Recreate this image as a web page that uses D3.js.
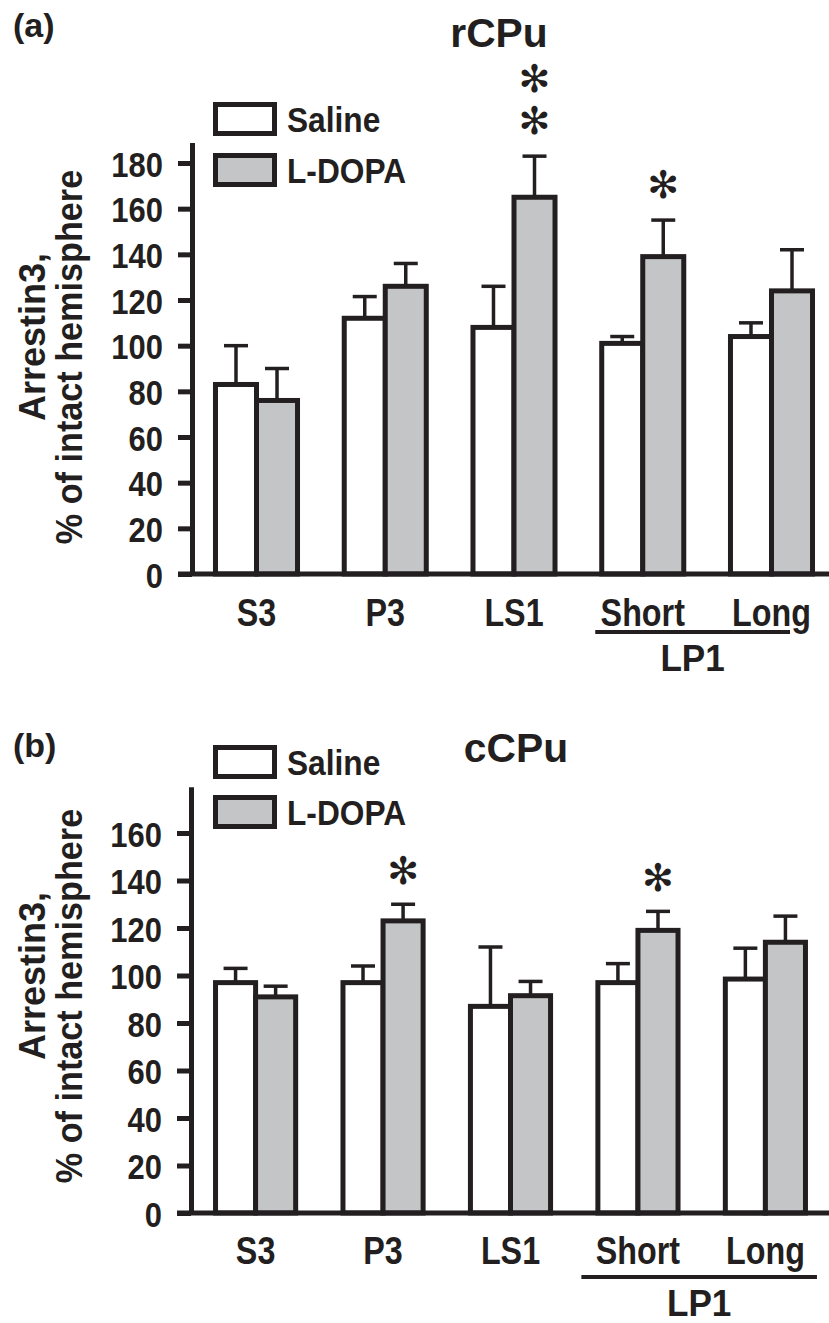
<!DOCTYPE html>
<html>
<head>
<meta charset="utf-8">
<script src="https://cdn.jsdelivr.net/npm/d3@7"></script>
<style>
  body { margin: 0; background: #fff; }
  svg { display: block; }
  text { font-family: "Liberation Sans", Arial, sans-serif; font-weight: bold; fill: #231f20; }
  .star { font-family: "DejaVu Sans", sans-serif; font-weight: normal; }
</style>
</head>
<body>
<div id="chart"></div>
<script>
// ---- data ----
const categories = ['S3', 'P3', 'LS1', 'Short', 'Long'];
const series = ['Saline', 'L-DOPA'];
const lp1Group = ['Short', 'Long'];

// (a) rCPu
const salineA = [83, 112, 108, 101, 104];
const salineErrA = [17, 9.5, 18, 3, 6];
const ldopaA = [76, 126, 165, 139, 124];
const ldopaErrA = [14, 10, 18, 16, 18];
const starsA = [0, 0, 2, 1, 0];
const ticksA = [0, 20, 40, 60, 80, 100, 120, 140, 160, 180];

// (b) cCPu
const salineB = [97, 97, 87, 97, 98.5];
const salineErrB = [6, 7, 25, 8, 13];
const ldopaB = [91, 123, 91.5, 119, 114];
const ldopaErrB = [4.5, 7, 6, 8, 11];
const starsB = [0, 1, 0, 1, 0];
const ticksB = [0, 20, 40, 60, 80, 100, 120, 140, 160];

const W = 829, H = 1323;
const INK = '#231f20', GREY = '#c4c5c7';
const fills = { 'Saline': '#ffffff', 'L-DOPA': GREY };

const svg = d3.select('#chart').append('svg').attr('width', W).attr('height', H);

function txt(g, str, x, y, size, anchor, sx, rot) {
    return g.append('text')
        .attr('transform', `translate(${x},${y})` + (rot ? ` rotate(${rot})` : '') + ` scale(${sx || 1},1)`)
        .attr('text-anchor', anchor || 'start')
        .style('font-size', size + 'px')
        .text(str);
}

function drawPanel(cfg) {
    const g = svg.append('g');
    const y = d3.scaleLinear().domain([0, cfg.yMax]).range([cfg.y0, cfg.y0 - cfg.yMax * cfg.ppu]);
    const x0 = d3.scaleBand().domain(categories).range(cfg.xRange)
        .paddingInner(cfg.padIn).paddingOuter(cfg.padOut);
    const x1 = d3.scaleBand().domain(series).range([2.5, x0.bandwidth() - 2.5]);

    const rows = categories.map((c, i) => ({
        cat: c,
        vals: [
            { s: 'Saline', v: cfg.saline[i], e: cfg.salineErr[i], stars: 0 },
            { s: 'L-DOPA', v: cfg.ldopa[i], e: cfg.ldopaErr[i], stars: cfg.stars[i] }
        ]
    }));

    // error bars (drawn first so bar outlines sit on top)
    const bars = g.selectAll('g.grp').data(rows).enter().append('g')
        .attr('class', 'grp')
        .attr('transform', d => `translate(${x0(d.cat)},0)`);

    bars.selectAll('line.stem').data(d => d.vals).enter().append('line')
        .attr('x1', d => x1(d.s) + x1.bandwidth() / 2)
        .attr('x2', d => x1(d.s) + x1.bandwidth() / 2)
        .attr('y1', d => y(d.v)).attr('y2', d => y(d.v + d.e))
        .attr('stroke', INK).attr('stroke-width', 3.5);
    bars.selectAll('line.cap').data(d => d.vals).enter().append('line')
        .attr('x1', d => x1(d.s) + x1.bandwidth() / 2 - 12)
        .attr('x2', d => x1(d.s) + x1.bandwidth() / 2 + 12)
        .attr('y1', d => y(d.v + d.e)).attr('y2', d => y(d.v + d.e))
        .attr('stroke', INK).attr('stroke-width', 3.5);

    bars.selectAll('rect').data(d => d.vals).enter().append('rect')
        .attr('x', d => x1(d.s))
        .attr('width', x1.bandwidth())
        .attr('y', d => y(d.v))
        .attr('height', d => y(0) - y(d.v))
        .attr('fill', d => fills[d.s])
        .attr('stroke', INK).attr('stroke-width', 5);

    // significance asterisks
    bars.each(function (d) {
        const v = d.vals[1];
        for (let k = 0; k < v.stars; k++) {
            d3.select(this).append('text').attr('class', 'star')
                .attr('x', x1(v.s) + x1.bandwidth() / 2)
                .attr('y', y(v.v + v.e) - cfg.starGap - k * 42)
                .attr('text-anchor', 'middle')
                .attr('dominant-baseline', 'central')
                .style('font-size', '38px')
                .text('\u273B');
        }
    });

    // y axis
    const ya = g.append('g').attr('transform', `translate(${cfg.axisX},0)`)
        .call(d3.axisLeft(y).tickValues(cfg.ticks).tickSize(14).tickSizeOuter(0).tickPadding(15));
    ya.select('.domain').attr('stroke', INK).attr('stroke-width', 5);
    ya.selectAll('.tick line').attr('stroke', INK).attr('stroke-width', 5);
    ya.selectAll('.tick text')
        .attr('x', null).attr('dy', null)
        .attr('transform', 'translate(-29,13) scale(0.86,1)')
        .style('font-size', '36px').style('font-family', null).attr('fill', INK);

    // baseline
    g.append('line')
        .attr('x1', cfg.axisX - 14).attr('x2', W)
        .attr('y1', y(0)).attr('y2', y(0))
        .attr('stroke', INK).attr('stroke-width', 5);

    // category labels
    const xa = g.append('g').attr('transform', `translate(0,${cfg.xLabelY})`)
        .call(d3.axisBottom(x0).tickSize(0).tickPadding(0));
    xa.select('.domain').remove();
    xa.selectAll('.tick text')
        .attr('y', null).attr('dy', null)
        .attr('transform', 'scale(0.85,1)')
        .style('font-size', '38px').style('font-family', null).attr('fill', INK);

    // LP1 bracket
    const lx1 = x0(lp1Group[0]) + cfg.lpOff[0];
    const lx2 = x0(lp1Group[1]) + x0.bandwidth() + cfg.lpOff[1];
    g.append('line').attr('x1', lx1).attr('x2', lx2)
        .attr('y1', cfg.lpLineY).attr('y2', cfg.lpLineY)
        .attr('stroke', INK).attr('stroke-width', 4);
    txt(g, 'LP1', (lx1 + lx2) / 2, cfg.lpY, 37, 'middle', 0.95);

    // y axis title
    txt(g, 'Arrestin3,', 45, cfg.titleC1, 36, 'middle', 1, -90);
    txt(g, '% of intact hemisphere', 82, cfg.titleC2, 36, 'middle', 0.95, -90);

    // panel label & title
    txt(g, cfg.tag, 13, cfg.tagY, 34, 'start', 1);
    txt(g, cfg.title, cfg.titleX, cfg.titleY, 40, 'middle', 1.02);

    // legend
    series.forEach((s, i) => {
        const ly = cfg.legY[i];
        g.append('rect').attr('x', 215.5).attr('y', ly + 2.5)
            .attr('width', 59).attr('height', 29)
            .attr('fill', fills[s]).attr('stroke', INK).attr('stroke-width', 5);
        txt(g, s, 287, ly + 30, 36, 'start', 0.88);
    });
}

drawPanel({
    saline: salineA, salineErr: salineErrA, ldopa: ldopaA, ldopaErr: ldopaErrA,
    stars: starsA, ticks: ticksA,
    y0: 574, ppu: 2.2833, yMax: 189, axisX: 192,
    xRange: [192, 836], padIn: 0.324, padOut: 0.163,
    starGap: 35, xLabelY: 626, lpOff: [-4, -25], lpLineY: 632, lpY: 671,
    titleC1: 337, titleC2: 357,
    tag: '(a)', tagY: 37, title: 'rCPu', titleX: 499, titleY: 47,
    legY: [102, 153]
});

drawPanel({
    saline: salineB, salineErr: salineErrB, ldopa: ldopaB, ldopaErr: ldopaErrB,
    stars: starsB, ticks: ticksB,
    y0: 1213, ppu: 2.375, yMax: 179.5, axisX: 191,
    xRange: [192, 829], padIn: 0.332, padOut: 0.165,
    starGap: 33, xLabelY: 1264, lpOff: [-14, 9], lpLineY: 1277, lpY: 1316,
    titleC1: 976, titleC2: 996,
    tag: '(b)', tagY: 757, title: 'cCPu', titleX: 516, titleY: 762,
    legY: [745, 795]
});
</script>
</body>
</html>
